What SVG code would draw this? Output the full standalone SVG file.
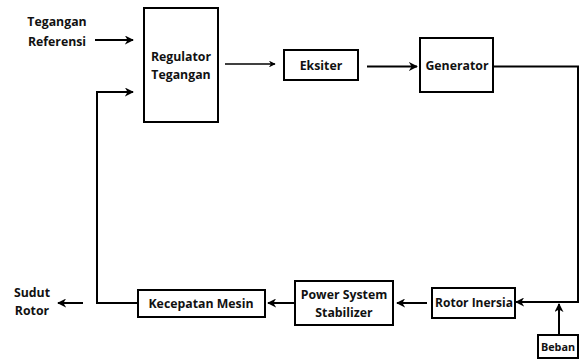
<svg xmlns="http://www.w3.org/2000/svg" width="584" height="360" viewBox="0 0 584 360">
<defs>
<marker id="ah" viewBox="0 0 10 10" refX="9" refY="5" markerWidth="4.5" markerHeight="4.5" orient="auto" markerUnits="strokeWidth">
<path d="M0,0 L10,5 L0,10 L3,5 z" fill="#000"/>
</marker>
<style>
.box{fill:#fff;stroke:#000;stroke-width:2}
.t{font-family:"Open Sans","Liberation Sans",sans-serif;font-weight:bold;font-size:12.3px;fill:#111;text-anchor:middle}
.c{fill:none;stroke:#000;stroke-width:2}
</style>
</defs>
<rect width="584" height="360" fill="#fff"/>
<g id="connectors">
<line class="c" x1="95" y1="40" x2="133" y2="40" marker-end="url(#ah)"/>
<polyline class="c" points="138,303 97,303 97,92 133,92" marker-end="url(#ah)"/>
<line class="c" x1="225" y1="64" x2="275" y2="64" style="stroke-width:1.5" marker-end="url(#ah)"/>
<line class="c" x1="367" y1="66.5" x2="417" y2="66.5" marker-end="url(#ah)"/>
<polyline class="c" points="493,66.5 578,66.5 578,302 516,302" marker-end="url(#ah)"/>
<line class="c" x1="559" y1="335" x2="559" y2="304" marker-end="url(#ah)"/>
<line class="c" x1="427" y1="303" x2="397" y2="303" marker-end="url(#ah)"/>
<line class="c" x1="294" y1="303" x2="268" y2="303" marker-end="url(#ah)"/>
<line class="c" x1="83" y1="303" x2="58" y2="303" marker-end="url(#ah)"/>
</g>
<g id="tegangan-referensi">
<text class="t" x="57" y="26">Tegangan</text>
<text class="t" x="57" y="46">Referensi</text>
</g>
<g id="regulator">
<rect class="box" x="144" y="8" width="74" height="114"/>
<text class="t" x="181" y="61">Regulator</text>
<text class="t" x="181" y="79">Tegangan</text>
</g>
<g id="eksiter">
<rect class="box" x="284" y="50" width="74" height="30"/>
<text class="t" x="321" y="70">Eksiter</text>
</g>
<g id="generator">
<rect class="box" x="420" y="38" width="73" height="54"/>
<text class="t" x="457" y="70">Generator</text>
</g>
<g id="rotor-inersia">
<rect class="box" x="432" y="288" width="83" height="30"/>
<text class="t" x="474" y="307" style="font-size:12px">Rotor Inersia</text>
</g>
<g id="beban">
<rect class="box" x="538" y="335" width="40" height="23"/>
<text class="t" x="558" y="351" style="font-size:10.8px">Beban</text>
</g>
<g id="pss">
<rect class="box" x="295" y="281" width="98" height="44"/>
<text class="t" x="344" y="299">Power System</text>
<text class="t" x="344" y="317">Stabilizer</text>
</g>
<g id="kecepatan-mesin">
<rect class="box" x="138" y="290" width="127" height="27"/>
<text class="t" x="201" y="308">Kecepatan Mesin</text>
</g>
<g id="sudut-rotor">
<text class="t" x="32" y="297">Sudut</text>
<text class="t" x="32" y="315">Rotor</text>
</g>
</svg>
